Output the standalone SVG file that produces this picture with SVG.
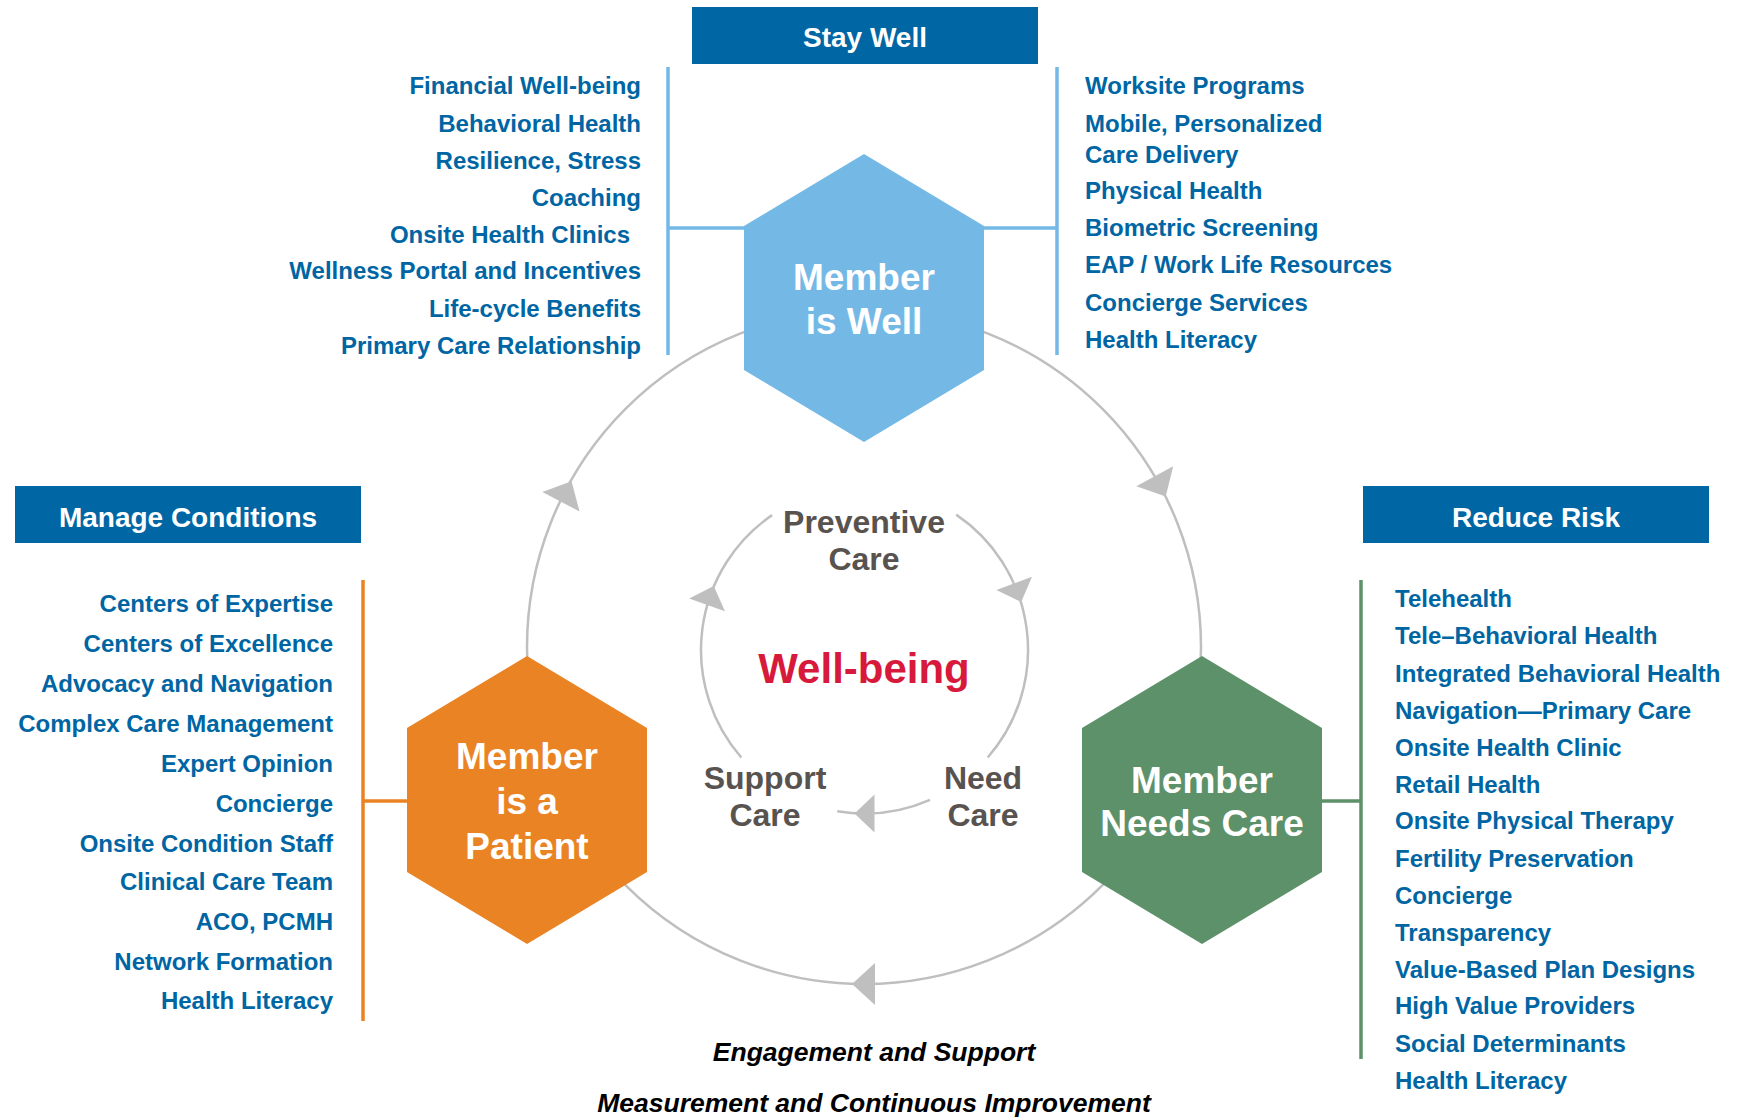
<svg xmlns="http://www.w3.org/2000/svg" width="1737" height="1118" viewBox="0 0 1737 1118">
<style>
text { font-family: "Liberation Sans", Arial, sans-serif; font-weight: bold; }
.hdr rect { fill: #0066A4; }
.hdr text { fill: #ffffff; font-size: 28px; text-anchor: middle; }
.li text { fill: #0065A3; font-size: 24px; }
.r text { text-anchor: end; }
.hx text { fill: #ffffff; font-size: 37px; text-anchor: middle; }
.cyc { fill: #595350; font-size: 32px; text-anchor: middle; }
.ring { fill: none; stroke: #BFBFBF; stroke-width: 2.5; }
.ah { fill: #BFBFBF; }
.blue { stroke: #74B9E6; stroke-width: 3.5; fill: none; }
.orange { stroke: #EA8324; stroke-width: 3.5; fill: none; }
.green { stroke: #5D9169; stroke-width: 3.5; fill: none; }
.foot { fill: #000000; font-size: 26.5px; font-style: italic; text-anchor: middle; }
</style>
<defs>
<polygon id="ahO" class="ah" points="12,0 -11,-21 -11,21"/>
<polygon id="ahI" class="ah" points="10,0 -10,-19 -10,19"/>
</defs>
<rect width="1737" height="1118" fill="#ffffff"/>

<g id="connectors">
  <circle class="ring" cx="864" cy="647" r="337"/>
  <use href="#ahO" transform="translate(566,492) rotate(297.5)"/>
  <use href="#ahO" transform="translate(1160,486) rotate(61.5)"/>
  <use href="#ahO" transform="translate(864,984) rotate(180)"/>
  <path class="ring" d="M956.2,514.6 A163.5,163.5 0 0 1 987.7,757.5"/>
  <path class="ring" d="M930,799.8 A163.5,163.5 0 0 1 837.2,811.2"/>
  <path class="ring" d="M741.3,757.5 A163.5,163.5 0 0 1 772.1,515.1"/>
  <use href="#ahI" transform="translate(1017.7,592.7) rotate(69.5)"/>
  <use href="#ahI" transform="translate(710.4,595.4) rotate(289.5)"/>
  <use href="#ahI" transform="translate(864.5,813.5) rotate(180)"/>
  <path class="blue" d="M668,67 V355 M668,228 H746 M1057,67 V355 M982,228 H1057"/>
  <path class="orange" d="M363,580 V1021 M363,801 H409"/>
  <path class="green" d="M1361,580 V1059 M1320,801 H1361"/>
</g>

<g id="hdr-stay-well" class="hdr">
  <rect x="692" y="7" width="346" height="57"/>
  <text x="865" y="47">Stay Well</text>
</g>
<g id="hdr-manage-conditions" class="hdr">
  <rect x="15" y="486" width="346" height="57"/>
  <text x="188" y="527">Manage Conditions</text>
</g>
<g id="hdr-reduce-risk" class="hdr">
  <rect x="1363" y="486" width="346" height="57"/>
  <text x="1536" y="527">Reduce Risk</text>
</g>

<g id="node-member-is-well" class="hx">
  <polygon points="864,154 984,226 984,370 864,442 744,370 744,226" fill="#74B9E6"/>
  <text x="864" y="290">Member</text>
  <text x="864" y="334">is Well</text>
</g>
<g id="node-member-is-a-patient" class="hx">
  <polygon points="527,656 647,728 647,872 527,944 407,872 407,728" fill="#EA8324"/>
  <text x="527" y="769">Member</text>
  <text x="527" y="814">is a</text>
  <text x="527" y="859">Patient</text>
</g>
<g id="node-member-needs-care" class="hx">
  <polygon points="1202,656 1322,728 1322,872 1202,944 1082,872 1082,728" fill="#5D9169"/>
  <text x="1202" y="793">Member</text>
  <text x="1202" y="836">Needs Care</text>
</g>

<g id="list-stay-well-left" class="li r">
  <text x="641" y="94">Financial Well-being</text>
  <text x="641" y="132">Behavioral Health</text>
  <text x="641" y="169">Resilience, Stress</text>
  <text x="641" y="206">Coaching</text>
  <text x="630" y="243">Onsite Health Clinics</text>
  <text x="641" y="279">Wellness Portal and Incentives</text>
  <text x="641" y="317">Life-cycle Benefits</text>
  <text x="641" y="354">Primary Care Relationship</text>
</g>
<g id="list-stay-well-right" class="li">
  <text x="1085" y="94">Worksite Programs</text>
  <text x="1085" y="132">Mobile, Personalized</text>
  <text x="1085" y="163">Care Delivery</text>
  <text x="1085" y="199">Physical Health</text>
  <text x="1085" y="236">Biometric Screening</text>
  <text x="1085" y="273">EAP / Work Life Resources</text>
  <text x="1085" y="311">Concierge Services</text>
  <text x="1085" y="348">Health Literacy</text>
</g>
<g id="list-manage-conditions" class="li r">
  <text x="333" y="612">Centers of Expertise</text>
  <text x="333" y="652">Centers of Excellence</text>
  <text x="333" y="692">Advocacy and Navigation</text>
  <text x="333" y="732">Complex Care Management</text>
  <text x="333" y="772">Expert Opinion</text>
  <text x="333" y="812">Concierge</text>
  <text x="333" y="852">Onsite Condition Staff</text>
  <text x="333" y="890">Clinical Care Team</text>
  <text x="333" y="930">ACO, PCMH</text>
  <text x="333" y="970">Network Formation</text>
  <text x="333" y="1009">Health Literacy</text>
</g>
<g id="list-reduce-risk" class="li">
  <text x="1395" y="607">Telehealth</text>
  <text x="1395" y="644">Tele–Behavioral Health</text>
  <text x="1395" y="682">Integrated Behavioral Health</text>
  <text x="1395" y="719">Navigation—Primary Care</text>
  <text x="1395" y="756">Onsite Health Clinic</text>
  <text x="1395" y="793">Retail Health</text>
  <text x="1395" y="829">Onsite Physical Therapy</text>
  <text x="1395" y="867">Fertility Preservation</text>
  <text x="1395" y="904">Concierge</text>
  <text x="1395" y="941">Transparency</text>
  <text x="1395" y="978">Value-Based Plan Designs</text>
  <text x="1395" y="1014">High Value Providers</text>
  <text x="1395" y="1052">Social Determinants</text>
  <text x="1395" y="1089">Health Literacy</text>
</g>

<g id="cycle-labels">
  <text class="cyc" x="864" y="533">Preventive</text>
  <text class="cyc" x="864" y="570">Care</text>
  <text class="cyc" x="765" y="789">Support</text>
  <text class="cyc" x="765" y="826">Care</text>
  <text class="cyc" x="983" y="789">Need</text>
  <text class="cyc" x="983" y="826">Care</text>
</g>
<g id="center-wellbeing">
  <text x="864" y="683" font-size="42" fill="#D7193B" text-anchor="middle">Well-being</text>
</g>
<g id="footer">
  <text class="foot" x="874" y="1061">Engagement and Support</text>
  <text class="foot" x="874" y="1112">Measurement and Continuous Improvement</text>
</g>
</svg>
